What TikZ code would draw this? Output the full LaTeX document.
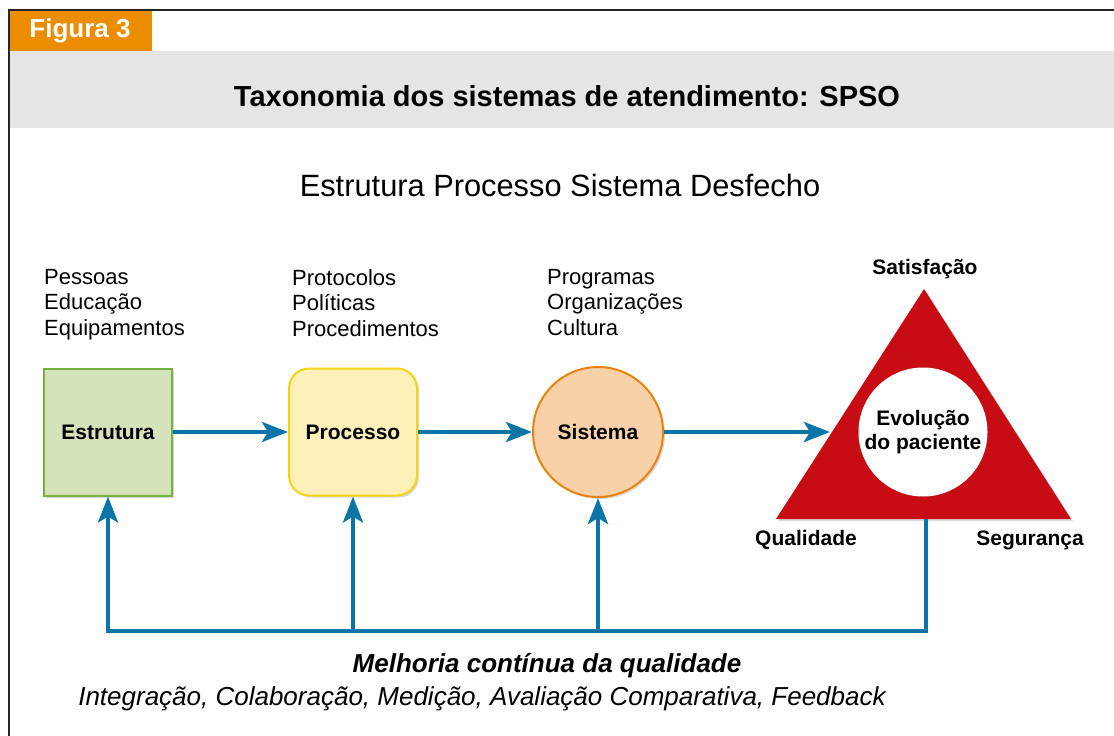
\documentclass[tikz,border=0pt]{standalone}
\usepackage{fontspec}
\setmainfont{Liberation Sans}
\usetikzlibrary{arrows.meta,shadows}

\definecolor{figlaranja}{HTML}{EC8D00}
\definecolor{faixacinza}{HTML}{E5E5E5}
\definecolor{setaazul}{HTML}{0B75A8}
\definecolor{verdefill}{HTML}{D4E3BA}
\definecolor{verdeborda}{HTML}{77B03E}
\definecolor{amarelofill}{HTML}{FDF0B9}
\definecolor{amareloborda}{HTML}{F5D314}
\definecolor{laranjafill}{HTML}{F8D1A9}
\definecolor{laranjaborda}{HTML}{E8830F}
\definecolor{vermelho}{HTML}{C70D13}

\begin{document}
\begin{tikzpicture}[x=1pt,y=-1pt,
  sombra/.style={drop shadow={shadow xshift=2pt,shadow yshift=-2pt,opacity=.3}},
  bloco/.style={draw,line width=2pt,minimum width=128pt,minimum height=127pt,sombra,
    font=\bfseries\fontsize{21}{24}\selectfont},
  rotulo/.style={anchor=north west,align=left,inner sep=0pt,font=\fontsize{22}{25.5}\selectfont},
  negrito/.style={font=\bfseries\fontsize{21}{24}\selectfont},
  linha/.style={line width=4.5pt,color=setaazul},
  flecha/.style={linha,-{Stealth[length=26pt,width=20pt,inset=6pt]}}]

\useasboundingbox (0,0) rectangle (1114,736);

\fill [figlaranja] (9,10) rectangle (152,51);
\fill [faixacinza] (9,51) rectangle (1114,128);
\draw [line width=2pt,black!85] (1114,10) -- (9,10) -- (9,736);

\node [text=white,font=\bfseries\fontsize{26}{30}\selectfont] (figura) at (80,31) {Figura 3};
\node [font=\bfseries\fontsize{29}{33}\selectfont] (titulo) at (567,96) {Taxonomia dos sistemas de atendimento: SPSO};
\node [font=\fontsize{30.8}{34}\selectfont] (subtitulo) at (560,185) {Estrutura Processo Sistema Desfecho};

\node [rotulo] (lista1) at (44,269) {Pessoas\\Educação\\Equipamentos};
\node [rotulo] (lista2) at (292,269) {Protocolos\\Políticas\\Procedimentos};
\node [rotulo] (lista3) at (547,269) {Programas\\Organizações\\Cultura};

\node [bloco,fill=verdefill,draw=verdeborda] (estrutura) at (108,432) {Estrutura};
\node [bloco,fill=amarelofill,draw=amareloborda,rounded corners=20pt] (processo) at (353,432) {Processo};
\node [bloco,circle,minimum size=130pt,fill=laranjafill,draw=laranjaborda] (sistema) at (598,432) {Sistema};

\coordinate (topo) at (924,289);
\coordinate (base-esq) at (776,519);
\coordinate (base-dir) at (1071,519);
\coordinate (tri-esq) at (830,432);
\coordinate (tri-base) at (926,519);
\fill [vermelho,sombra] (topo) -- (base-dir) -- (base-esq) -- cycle;
\node [circle,fill=white,minimum size=129pt,align=center,inner sep=0pt,
  font=\bfseries\fontsize{21}{24}\selectfont] (evolucao) at (923,432) {Evolução\\do paciente};

\node [negrito] (satisfacao) at (925,269) {Satisfação};
\node [negrito] (qualidade) at (806,540) {Qualidade};
\node [negrito] (seguranca) at (1030,540) {Segurança};

\draw [flecha] (estrutura) -- (processo);
\draw [flecha] (processo) -- (sistema);
\draw [flecha] (sistema) -- (tri-esq);

\coordinate (canto-dir) at (926,631);
\coordinate (canto-esq) at (108,631);
\draw [flecha] (tri-base) -- (canto-dir) -- (canto-esq) -- (estrutura.south);
\draw [flecha] (canto-esq -| processo) -- (processo.south);
\draw [flecha] (canto-esq -| sistema) -- (sistema.south);

\node [font=\bfseries\itshape\fontsize{26}{30}\selectfont] (melhoria) at (547,666) {Melhoria contínua da qualidade};
\node [font=\itshape\fontsize{26}{30}\selectfont] (itens) at (482,699) {Integração, Colaboração, Medição, Avaliação Comparativa, Feedback};

\end{tikzpicture}
\end{document}
